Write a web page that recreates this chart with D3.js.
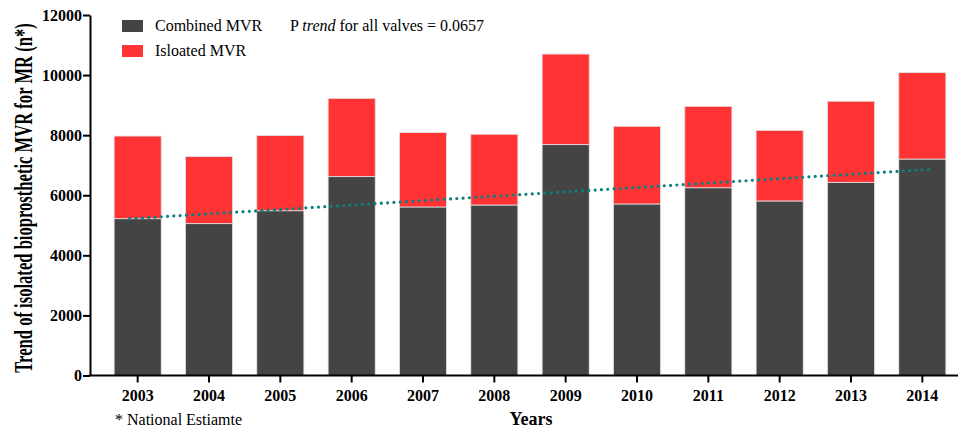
<!DOCTYPE html>
<html>
<head>
<meta charset="utf-8">
<script src="https://cdn.jsdelivr.net/npm/d3@7"></script>
<style>
  html, body { margin: 0; padding: 0; background: #fff; }
  svg { display: block; }
  svg text { font-family: "Liberation Serif", "Times New Roman", Times, serif; }
</style>
</head>
<body>
<svg id="chart" width="958" height="430"></svg>
<script>
const years = ["2003","2004","2005","2006","2007","2008","2009","2010","2011","2012","2013","2014"];
const combinedMVR = [5220, 5055, 5485, 6620, 5610, 5675, 7685, 5710, 6250, 5810, 6430, 7205];
const isolatedMVR = [2750, 2230, 2500, 2605, 2475, 2355, 3015, 2585, 2710, 2350, 2700, 2875];
const yTicks = [0, 2000, 4000, 6000, 8000, 10000, 12000];
const trendYears = [2002.89, 2014.14];
const trendValues = [5220, 6865];
const seriesNames = ["Combined MVR", "Isloated MVR"];
const seriesColors = ["#444444", "#ff3333"];

const FONT = '"Liberation Serif", "Times New Roman", Times, serif';
const svg = d3.select("#chart");
const axisX = 90, axisY = 375.5;

const x = d3.scaleBand().domain(years).range([102, 958]).paddingInner(0.34).paddingOuter(0.17);
const y = d3.scaleLinear().domain([0, 12000]).range([axisY, 15]);
const xYear = d3.scaleLinear()
  .domain([+years[0], +years[years.length - 1]])
  .range([x(years[0]) + x.bandwidth() / 2, x(years[years.length - 1]) + x.bandwidth() / 2]);

const rows = years.map((yr, i) => ({ year: yr, combined: combinedMVR[i], isolated: isolatedMVR[i] }));
const stacked = d3.stack().keys(["combined", "isolated"])(rows);

svg.append("g").selectAll("g").data(stacked).join("g")
  .attr("fill", (d, i) => seriesColors[i])
  .selectAll("rect").data(d => d).join("rect")
  .attr("x", d => x(d.data.year))
  .attr("width", x.bandwidth())
  .attr("y", d => y(d[1]))
  .attr("height", d => y(d[0]) - y(d[1]))
  .attr("stroke", "#e2e2e2")
  .attr("stroke-width", 0.8);

// trend line
svg.append("path")
  .datum(trendYears.map((t, i) => [t, trendValues[i]]))
  .attr("d", d3.line().x(d => xYear(d[0])).y(d => y(d[1])))
  .attr("fill", "none")
  .attr("stroke", "#0a8080")
  .attr("stroke-width", 3.2)
  .attr("stroke-linecap", "round")
  .attr("stroke-dasharray", "0,6.3");

// y axis
const yAxis = svg.append("g")
  .attr("transform", `translate(${axisX},0)`)
  .call(d3.axisLeft(y).tickValues(yTicks).tickSize(7).tickSizeOuter(0).tickFormat(d3.format("d")));
yAxis.attr("font-family", FONT);
yAxis.select(".domain").attr("stroke", "#000").attr("stroke-width", 2);
yAxis.selectAll(".tick line").attr("stroke", "#000").attr("stroke-width", 2);
yAxis.selectAll(".tick text")
  .attr("font-family", FONT)
  .attr("font-size", 16).attr("font-weight", "bold").attr("fill", "#000").attr("x", -8);

// x axis
const xAxis = svg.append("g")
  .attr("transform", `translate(0,${axisY})`)
  .call(d3.axisBottom(x).tickSize(7).tickSizeOuter(0));
xAxis.attr("font-family", FONT);
xAxis.select(".domain").remove();
xAxis.append("line").attr("x1", axisX - 1).attr("x2", 958).attr("stroke", "#000").attr("stroke-width", 2);
xAxis.selectAll(".tick line").attr("stroke", "#000").attr("stroke-width", 2);
xAxis.selectAll(".tick text")
  .attr("font-family", FONT)
  .attr("font-size", 16).attr("font-weight", "bold").attr("fill", "#000").attr("y", 14);

// axis titles
svg.append("text")
  .attr("transform", "translate(32,198) rotate(-90) scale(1,1.55)")
  .attr("text-anchor", "middle")
  .attr("font-family", FONT)
  .attr("font-size", 16.6).attr("font-weight", "bold")
  .text("Trend of isolated bioprosthetic MVR for MR (n*)");
svg.append("text")
  .attr("x", 531).attr("y", 425)
  .attr("text-anchor", "middle")
  .attr("font-family", FONT)
  .attr("font-size", 18).attr("font-weight", "bold")
  .text("Years");
svg.append("text")
  .attr("x", 115).attr("y", 425)
  .attr("font-family", FONT)
  .attr("font-size", 16)
  .text("* National Estiamte");

// legend
const legend = svg.append("g");
seriesNames.forEach((name, i) => {
  legend.append("rect")
    .attr("x", 122).attr("y", 20 + i * 25)
    .attr("width", 21).attr("height", 12)
    .attr("fill", seriesColors[i]);
  legend.append("text")
    .attr("x", 155).attr("y", 31 + i * 25)
    .attr("font-family", FONT)
    .attr("font-size", 16)
    .text(name);
});
const pt = legend.append("text").attr("x", 290).attr("y", 31)
  .attr("font-family", FONT).attr("font-size", 16);
pt.append("tspan").text("P ");
pt.append("tspan").attr("font-style", "italic").text("trend");
pt.append("tspan").text(" for all valves = 0.0657");
</script>
</body>
</html>
